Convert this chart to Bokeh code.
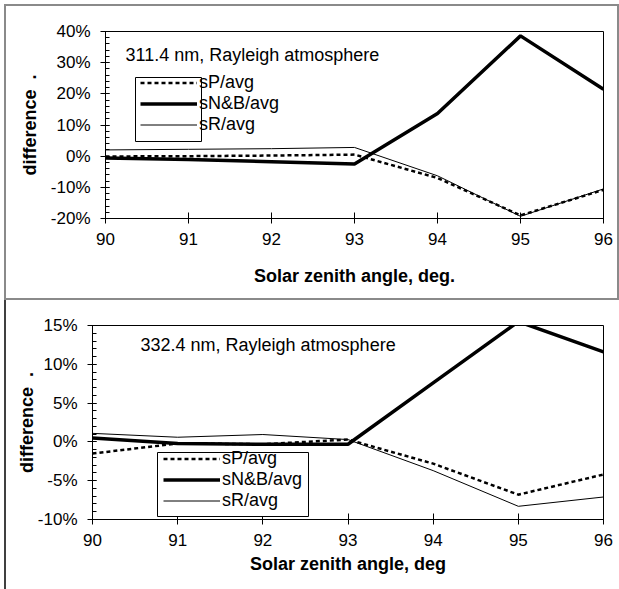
from bokeh.plotting import figure
from bokeh.layouts import column
from bokeh.models import (Range1d, SingleIntervalTicker, PrintfTickFormatter, Legend,
                          LegendItem, Label, BoxAnnotation)
from bokeh.embed import file_html
from bokeh.resources import INLINE

# ---------------- data ----------------
angles = [90, 91, 92, 93, 94, 95, 96]

# 311.4 nm panel (percent)
sp_311 = [-0.1, 0.0, 0.2, 0.5, -7.0, -19.0, -10.8]
snb_311 = [-0.6, -1.1, -1.8, -2.5, 13.7, 38.6, 21.5]
sr_311 = [2.0, 2.2, 2.4, 2.8, -6.3, -19.3, -10.5]

# 332.4 nm panel (percent)
sp_332 = [-1.5, -0.2, -0.3, 0.3, -2.8, -6.8, -4.2]
snb_332 = [0.5, -0.2, -0.3, -0.3, 7.6, 15.5, 11.6]
sr_332 = [1.1, 0.6, 0.95, 0.3, -3.7, -8.3, -7.1]

series_labels = ["sP/avg", "sN&B/avg", "sR/avg"]
titles = ["311.4 nm, Rayleigh atmosphere", "332.4 nm, Rayleigh atmosphere"]
x_titles = ["Solar zenith angle, deg.", "Solar zenith angle, deg"]
y_title = "difference\u00a0\u00a0."

FONT = "Liberation Sans"
FS_TICK = "17px"
FS = "18px"


def style_axes(p, y_interval, x_label_standoff, x_title_standoff, y_title_standoff):
    p.xgrid.visible = False
    p.ygrid.visible = False
    p.outline_line_color = "black"
    p.outline_line_alpha = 1
    p.outline_line_width = 1
    p.background_fill_color = "white"
    p.border_fill_color = "white"

    p.xaxis.ticker = SingleIntervalTicker(interval=1, num_minor_ticks=0)
    p.yaxis.ticker = SingleIntervalTicker(interval=y_interval, num_minor_ticks=5)
    p.yaxis.formatter = PrintfTickFormatter(format="%d%%")

    for ax in (p.xaxis[0], p.yaxis[0]):
        ax.axis_line_color = "black"
        ax.major_tick_line_color = "black"
        ax.minor_tick_line_color = "black"
        ax.major_label_text_font = FONT
        ax.major_label_text_font_size = FS_TICK
        ax.major_label_text_color = "black"
        ax.axis_label_text_font = FONT
        ax.axis_label_text_font_size = FS
        ax.axis_label_text_font_style = "bold"
        ax.axis_label_text_color = "black"

    p.xaxis.major_tick_in = 6
    p.xaxis.major_tick_out = 5
    p.xaxis.minor_tick_in = 0
    p.xaxis.minor_tick_out = 0
    p.xaxis.major_label_standoff = x_label_standoff
    p.xaxis.axis_label_standoff = x_title_standoff

    p.yaxis.major_tick_in = 4
    p.yaxis.major_tick_out = 5
    p.yaxis.minor_tick_in = 4
    p.yaxis.minor_tick_out = 0
    p.yaxis.major_label_standoff = 10
    p.yaxis.axis_label_standoff = y_title_standoff


def add_lines(p, sp, snb, sr):
    r1 = p.line(angles, sp, line_color="black", line_width=2.5, line_dash="4 3")
    r2 = p.line(angles, snb, line_color="black", line_width=3.5)
    r3 = p.line(angles, sr, line_color="black", line_width=1)
    return [r1, r2, r3]


def add_legend(p, renderers, loc):
    legend = Legend(
        items=[LegendItem(label=lab, renderers=[r]) for lab, r in zip(series_labels, renderers)],
        location=loc, orientation="vertical", padding=0, margin=0, spacing=0,
        glyph_width=57, glyph_height=19, label_height=19, label_standoff=2,
        border_line_alpha=0, background_fill_alpha=0,
        label_text_font=FONT, label_text_font_size=FS, label_text_color="black",
    )
    p.add_layout(legend)


def canvas_box(**kw):
    return BoxAnnotation(left_units="canvas", right_units="canvas",
                         top_units="canvas", bottom_units="canvas", **kw)


# ---------------- top panel ----------------
# bordered element occupies x 4..619, y 4..300; canvas origin at (6, 6)
p1 = figure(width=615, height=296, x_range=Range1d(90, 96), y_range=Range1d(-20, 40),
            output_backend="svg", toolbar_location=None,
            min_border_left=99, min_border_right=18, min_border_top=25, min_border_bottom=84)
p1.styles = {"border": "2px solid #8a8a8a", "overflow": "hidden"}
p1.margin = (4, 0, 0, 4)
p1.xaxis.axis_label = x_titles[0]
p1.yaxis.axis_label = y_title
style_axes(p1, 10, 9, 18, 8)
rs1 = add_lines(p1, sp_311, snb_311, sr_311)
p1.add_layout(canvas_box(left=127, right=193, top=69, bottom=133,
                         fill_alpha=0, line_color="black", line_alpha=1, line_width=1))
add_legend(p1, rs1, (35, 83))
p1.add_layout(Label(x=117, y=46, x_units="canvas", y_units="canvas", text=titles[0],
                    text_baseline="middle", text_align="left", text_font=FONT,
                    text_font_size=FS, text_color="black"))

# ---------------- bottom panel ----------------
# element occupies x 4..619, y 300..589 with a 2px left border; canvas origin at (6, 300)
p2 = figure(width=613, height=289, x_range=Range1d(90, 96), y_range=Range1d(-10, 15),
            output_backend="svg", toolbar_location=None,
            min_border_left=86, min_border_right=16, min_border_top=25, min_border_bottom=70)
p2.styles = {"border-left": "2px solid #404040", "overflow": "hidden"}
p2.margin = (0, 0, 0, 4)
p2.xaxis.axis_label = x_titles[1]
p2.yaxis.axis_label = y_title
style_axes(p2, 5, 9, 5, -2)
rs2 = add_lines(p2, sp_332, snb_332, sr_332)
p2.add_layout(canvas_box(left=149, right=300, top=152, bottom=216,
                         fill_color="white", fill_alpha=1, line_color="black",
                         line_alpha=1, line_width=1))
add_legend(p2, rs2, (71, 8))
p2.add_layout(Label(x=132, y=44, x_units="canvas", y_units="canvas", text=titles[1],
                    text_baseline="middle", text_align="left", text_font=FONT,
                    text_font_size=FS, text_color="black"))

layout = column(column(p1), column(p2), spacing=0)

with open("out.html", "w") as f:
    f.write(file_html(layout, INLINE))
